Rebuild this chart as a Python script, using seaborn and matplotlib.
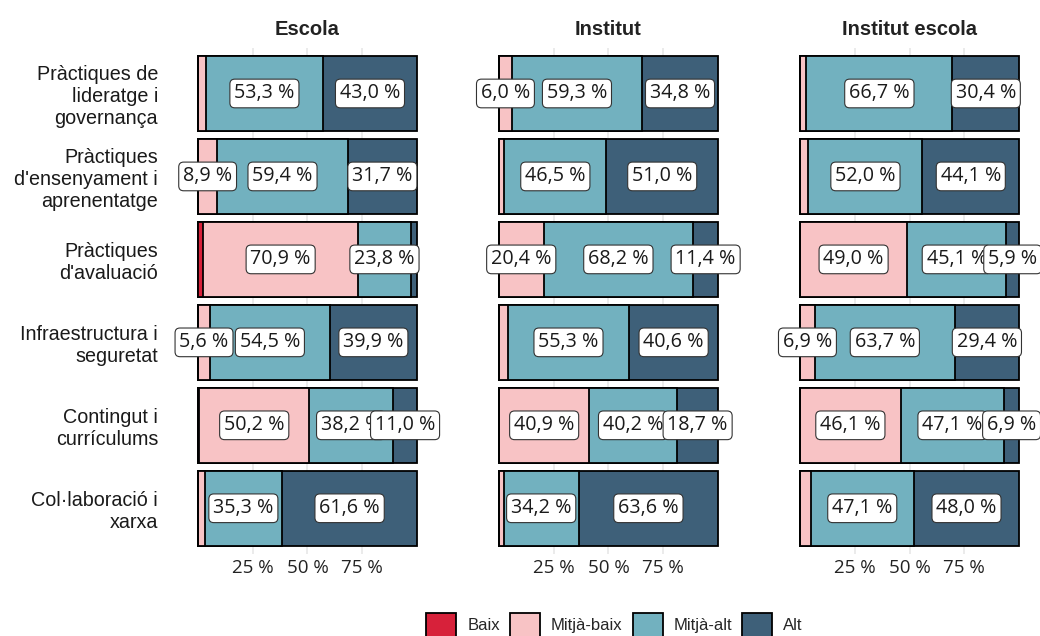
import pandas as pd
import seaborn as sns
import matplotlib.pyplot as plt
from matplotlib.patches import Patch

categories = ["Pràctiques de\nlideratge i\ngovernança",
              "Pràctiques\nd'ensenyament i\naprenentatge",
              "Pràctiques\nd'avaluació",
              "Infraestructura i\nseguretat",
              "Contingut i\ncurrículums",
              "Col·laboració i\nxarxa"]
schools = ['Escola', 'Institut', 'Institut escola']
levels = ['Baix', 'Mitjà-baix', 'Mitjà-alt', 'Alt']
colors = ['#d7213a', '#f8c3c5', '#72b1bf', '#3e6079']

# percentages per school and level (same order as categories)
escola_baix = [0.0, 0.0, 2.3, 0.0, 0.6, 0.0]
escola_mbaix = [3.7, 8.9, 70.9, 5.6, 50.2, 3.1]
escola_malt = [53.3, 59.4, 23.8, 54.5, 38.2, 35.3]
escola_alt = [43.0, 31.7, 3.0, 39.9, 11.0, 61.6]

institut_baix = [0.0, 0.0, 0.0, 0.0, 0.2, 0.0]
institut_mbaix = [6.0, 2.5, 20.4, 4.1, 40.9, 2.2]
institut_malt = [59.3, 46.5, 68.2, 55.3, 40.2, 34.2]
institut_alt = [34.8, 51.0, 11.4, 40.6, 18.7, 63.6]

ie_baix = [0.0, 0.0, 0.0, 0.0, 0.0, 0.0]
ie_mbaix = [2.9, 3.9, 49.0, 6.9, 46.1, 4.9]
ie_malt = [66.7, 52.0, 45.1, 63.7, 47.1, 47.1]
ie_alt = [30.4, 44.1, 5.9, 29.4, 6.9, 48.0]

values = {
    'Escola': [escola_baix, escola_mbaix, escola_malt, escola_alt],
    'Institut': [institut_baix, institut_mbaix, institut_malt, institut_alt],
    'Institut escola': [ie_baix, ie_mbaix, ie_malt, ie_alt],
}

sns.set_theme(style='white')
plt.rcParams['font.family'] = ['Liberation Sans', 'DejaVu Sans']

fig, axes = plt.subplots(1, 3, figsize=(10.4, 6.36), dpi=100)
fig.subplots_adjust(left=197/1040, right=1020/1040, top=1-47.85/636,
                    bottom=1-553.9/636, wspace=0.362)

for ax, school in zip(axes, schools):
    raw = pd.DataFrame(dict(zip(levels, values[school])), index=categories)
    wide = raw.div(raw.sum(axis=1), axis=0)
    cum = wide.cumsum(axis=1)
    cum['categoria'] = categories

    for lev, col in reversed(list(zip(levels, colors))):
        sns.barplot(data=cum, x=lev, y='categoria', order=categories, orient='h',
                    color=col, saturation=1, width=0.9, errorbar=None,
                    edgecolor='black', linewidth=1.3, ax=ax)

    for i, cat in enumerate(categories):
        for j, lev in enumerate(levels):
            v = raw.loc[cat, lev]
            if v < 5:
                continue
            mid = cum.loc[cat, lev] - wide.loc[cat, lev] / 2
            txt = f"{v:.1f}".replace('.', ',') + " %"
            ax.text(mid, i, txt, ha='center', va='center', fontsize=14.2,
                    family=['Open Sans', 'DejaVu Sans'], color='#1a1a1a',
                    zorder=5 + j, clip_on=False,
                    bbox=dict(boxstyle='round,pad=0.22,rounding_size=0.25',
                              fc='white', ec='#333333', lw=0.8))

    ax.set_xlim(-0.004, 1.004)
    ax.set_ylim(5.55, -0.55)
    ax.set_axisbelow(True)
    ax.xaxis.grid(True, color='#e6e6e6', lw=1.1)
    ax.yaxis.grid(False)
    for s in ax.spines.values():
        s.set_visible(False)
    ax.set_xticks([0.25, 0.5, 0.75])
    ax.set_xticklabels(['25 %', '50 %', '75 %'], family=['Open Sans', 'DejaVu Sans'],
                       fontsize=13.5, color='#222222')
    ax.tick_params(axis='x', length=0, pad=4)
    ax.tick_params(axis='y', length=0, pad=28)
    ax.set_xlabel('')
    ax.set_ylabel('')
    ax.set_title(school, fontsize=14.5, fontweight='bold', color='#222222', pad=9)
    if school == 'Escola':
        ax.set_yticks(range(len(categories)))
        ax.set_yticklabels(categories, fontsize=14.2, color='#1a1a1a', ha='right',
                           multialignment='right')
    else:
        ax.set_yticklabels([])

handles = [Patch(facecolor=c, edgecolor='black', lw=1.3) for c in colors]
fig.legend(handles, levels, loc='upper center', bbox_to_anchor=(0.591, 1-613/636),
           ncol=4, frameon=False, fontsize=12, handlelength=1.8, handleheight=1.8,
           handletextpad=0.66, columnspacing=0.6, borderpad=0, borderaxespad=0)

fig.savefig('out.png', dpi=100)
